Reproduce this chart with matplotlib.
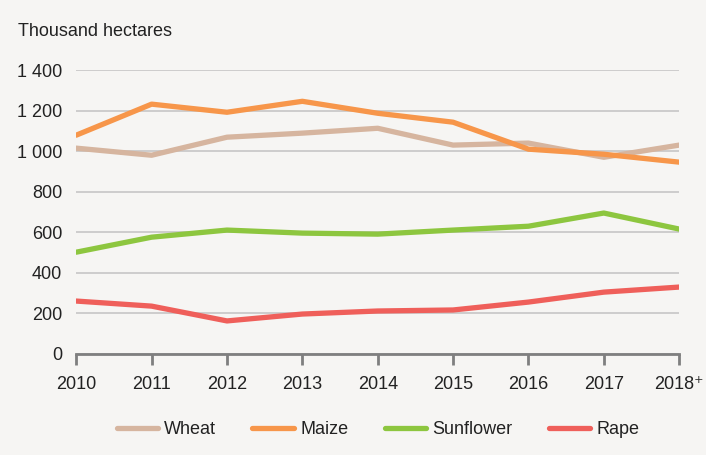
import matplotlib
matplotlib.use("Agg")
import matplotlib.pyplot as plt

years = ["2010", "2011", "2012", "2013", "2014", "2015", "2016", "2017", "2018\u207a"]
wheat = [1015, 980, 1069, 1089, 1113, 1030, 1040, 970, 1030]
maize = [1079, 1232, 1192, 1246, 1187, 1143, 1010, 985, 946]
sunflower = [502, 576, 611, 596, 591, 611, 630, 695, 616]
rape = [261, 236, 163, 197, 212, 217, 256, 305, 330]
yticks = [0, 200, 400, 600, 800, 1000, 1200, 1400]
ytick_labels = ["0", "200", "400", "600", "800", "1 000", "1 200", "1 400"]

plt.rcParams['font.family'] = ['Liberation Sans', 'DejaVu Sans']

bg = "#f6f5f3"
fs = 13
fig = plt.figure(figsize=(7.06, 4.55), dpi=100, facecolor=bg)
ax = fig.add_axes([0.108, 0.222, 0.854, 0.624])
ax.set_facecolor(bg)

x = list(range(len(years)))
series = [("Wheat", wheat, "#d6b59f"), ("Maize", maize, "#f7964a"),
          ("Sunflower", sunflower, "#8dc63f"), ("Rape", rape, "#ef5f5a")]
for name, vals, col in series:
    ax.plot(x, vals, color=col, lw=3.8, solid_capstyle="round", solid_joinstyle="round",
            label=name, zorder=3)

ax.set_xlim(0, len(years) - 1)
ax.set_ylim(0, 1400)
ax.set_yticks(yticks)
ax.set_yticklabels(ytick_labels)
ax.set_xticks(x)
ax.set_xticklabels(years)
for s in ["top", "right", "left"]:
    ax.spines[s].set_visible(False)
ax.spines["bottom"].set_color("#7f7f7f")
ax.spines["bottom"].set_linewidth(2)
ax.spines["bottom"].set_zorder(2)
ax.yaxis.grid(True, color="#c6c6c6", lw=1.2)
ax.set_axisbelow(True)
ax.tick_params(axis="y", length=0, pad=10, labelsize=fs, labelcolor="#222222")
ax.tick_params(axis="x", length=8, width=2, color="#7f7f7f", pad=8, labelsize=fs,
               labelcolor="#222222", direction="out")

fig.text(18 / 706, 1 - 32 / 455, "Thousand hectares", fontsize=fs, color="#222222",
         va="center", ha="left")

leg = fig.legend(loc="center", bbox_to_anchor=(378 / 706, 1 - 430 / 455), ncol=4, frameon=False,
                 fontsize=fs, handlelength=2.3, columnspacing=2.0, handletextpad=0.35)
for t in leg.get_texts():
    t.set_color("#222222")

fig.savefig("out.png", dpi=100, facecolor=bg)
